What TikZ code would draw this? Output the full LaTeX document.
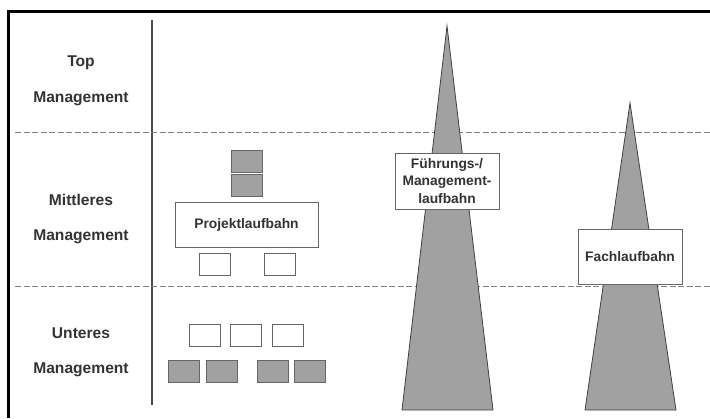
\documentclass[tikz,border=0pt]{standalone}
\usepackage{fontspec}
\setmainfont{Liberation Sans}
\begin{document}
\begin{tikzpicture}[
x=1pt,
y=1pt,
font=\bfseries,
txt/.style={
text=black!80
},
level/.style={
txt,
font=\fontsize{15.6}{18}\selectfont\bfseries
},
gbox/.style={
rectangle,
draw=black!60,
thick,
fill=black!37,
minimum width=31pt,
minimum height=22pt,
inner sep=0pt
},
wbox/.style={
rectangle,
draw=black!60,
thick,
fill=white,
minimum width=31pt,
minimum height=22pt,
inner sep=0pt
},
career/.style={
rectangle,
draw=black!60,
thick,
fill=white,
txt,
align=center,
inner sep=0pt,
font=\fontsize{13.8}{17.5}\selectfont\bfseries
},
peak/.style={
draw=black!75,
thick,
fill=black!37
},
level line/.style={
draw=black!50,
line width=1pt,
dash pattern=on 6pt off 2.5pt
}
]

\useasboundingbox (0,0) rectangle (710,418);

% frame and separators
\draw[line width=3pt] (8,0) -- (8,406) -- (710,406);
\draw[black!70, line width=1.2pt] (152,398) -- (152,13);
\draw[level line] (15,285) -- (710,285);
\draw[level line] (15,131) -- (710,131);

% hierarchy levels
\node[level] (top1) at (81,355) {Top};
\node[level] (top2) at (81,319) {Management};
\node[level] (mid1) at (81,218) {Mittleres};
\node[level] (mid2) at (81,181) {Management};
\node[level] (low1) at (81,85) {Unteres};
\node[level] (low2) at (81,48) {Management};

% project career
\node[gbox] (pa) at (246.5,257) {};
\node[gbox] (pb) at (246.5,233) {};
\node[career, minimum width=143pt, minimum height=45pt] (projekt) at (246.5,193.5) {Projektlaufbahn};
\node[wbox] (pc) at (214.5,154) {};
\node[wbox] (pd) at (279.5,154) {};

\node[wbox] (ua) at (204.5,83) {};
\node[wbox] (ub) at (245.5,83) {};
\node[wbox] (uc) at (287.5,83) {};

\node[gbox] (ga) at (183.5,47) {};
\node[gbox] (gb) at (221.5,47) {};
\node[gbox] (gc) at (272.5,47) {};
\node[gbox] (gd) at (310,47) {};

% management and specialist careers
\draw[peak] (447,392) -- (493,8) -- (402,8) -- cycle;
\draw[peak] (630,315) -- (676,8) -- (585,8) -- cycle;

\node[career, minimum width=104pt, minimum height=56pt] (fuehrung) at (447,237)
{F\"uhrungs-/\\Management-\\laufbahn};
\node[career, minimum width=104pt, minimum height=55pt] (fach) at (630,161.5)
{Fachlaufbahn};

\end{tikzpicture}
\end{document}
